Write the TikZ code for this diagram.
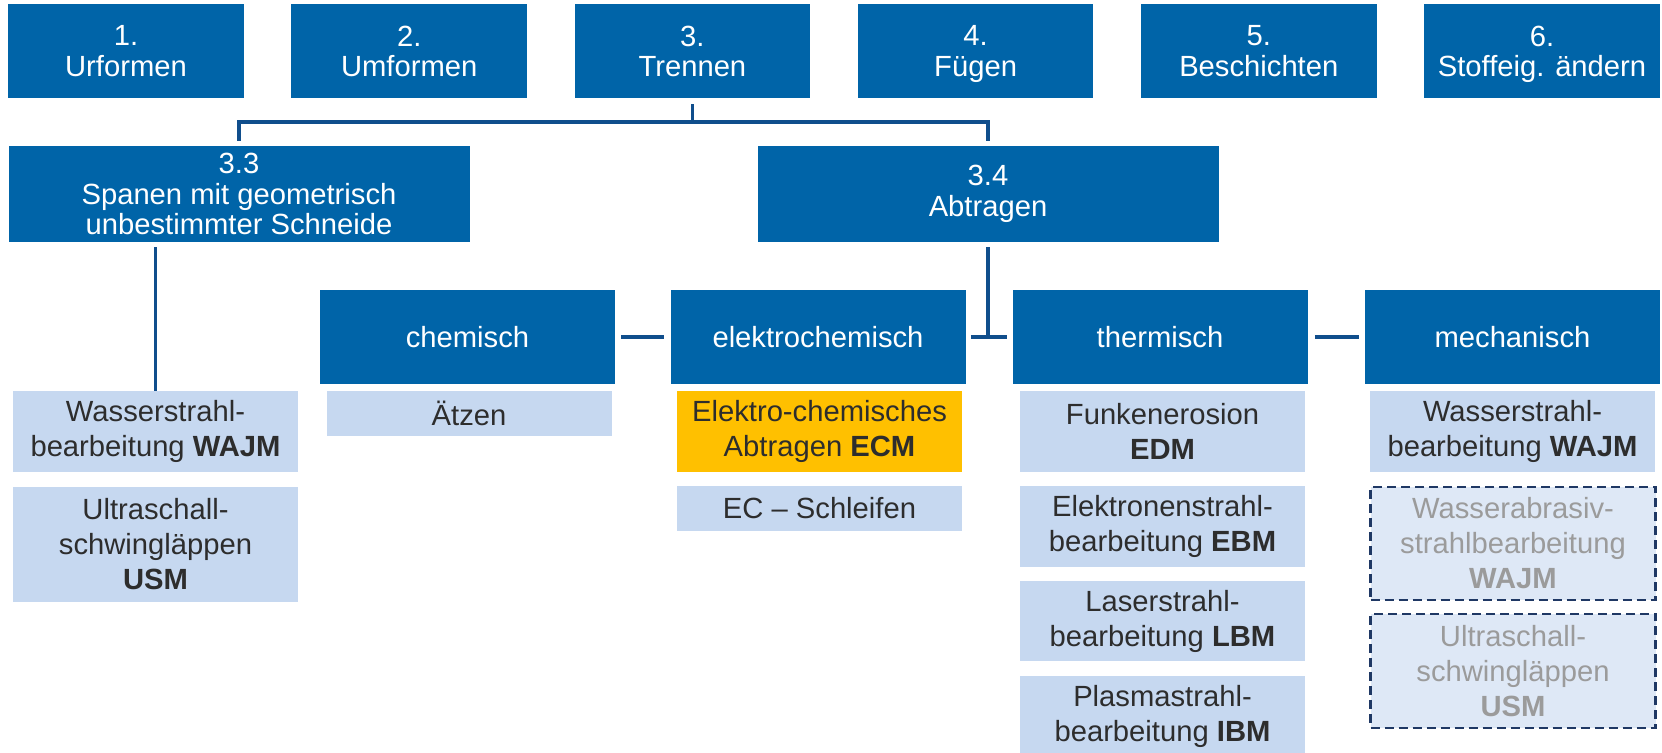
\documentclass[tikz,border=0pt]{standalone}
\usepackage{fontspec}
\setmainfont{Liberation Sans}
\usetikzlibrary{calc}

\definecolor{hsblue}{RGB}{0,100,168}
\definecolor{hsline}{RGB}{16,78,140}
\definecolor{hslight}{RGB}{198,216,240}
\definecolor{hsghost}{RGB}{222,232,246}
\definecolor{hsnavy}{RGB}{31,56,100}
\definecolor{hsgray}{RGB}{155,155,155}
\definecolor{hsdark}{RGB}{45,45,45}
\definecolor{hsorange}{RGB}{255,192,0}

\begin{document}
\begin{tikzpicture}[x=0.5pt,y=-0.5pt,
  box/.style={inner sep=0pt, align=center, font=\fontsize{14.6}{15.2}\selectfont},
  main/.style={box, fill=hsblue, text=white, minimum height=47pt},
  proc/.style={box, fill=hslight, text=hsdark, minimum width=142.5pt, font=\fontsize{14.6}{17.5}\selectfont},
  ghost/.style={proc, fill=hsghost, text=hsgray, draw=hsnavy, line width=1.2pt, dash pattern=on 4.5pt off 2.5pt},
  conn/.style={draw=hsline, line width=1.9pt}]
\useasboundingbox (0,0) rectangle (1662,752);

% Hauptgruppen
\foreach \n/\t [count=\i] in {1/Urformen, 2/Umformen, 3/Trennen, 4/Fügen, 5/Beschichten, 6/Stoffeig. ändern}
  \node[main, minimum width=117.75pt, text depth=0pt] (t\n) at ({126+283.2*(\i-1)},51) {\n.\\\t};

\node[main, minimum width=230.5pt, minimum height=48pt] (g33) at (239,194) {3.3\\Spanen mit geometrisch\\unbestimmter Schneide};
\node[main, minimum width=230.5pt, minimum height=48pt] (g34) at (988,194) {3.4\\Abtragen};

\foreach \name/\t/\x in {chem/chemisch/467.5, elchem/elektrochemisch/818, therm/thermisch/1160, mech/mechanisch/1512.5}
  \node[main, minimum width=147.5pt] (\name) at (\x,337) {\t};

% Verfahren
\node[proc, minimum height=40.5pt] (wajm1) at (155.5,431.5) {Wasserstrahl-\\bearbeitung \textbf{WAJM}};
\node[proc, minimum height=57.5pt] (usm1) at (155.5,544.5) {Ultraschall-\\schwingläppen\\\textbf{USM}};

\node[proc, minimum height=22.5pt] (aetzen) at (469,413.5) {Ätzen};

\node[proc, fill=hsorange, minimum height=40.5pt] (ecm) at (819.5,431.5) {Elektro-chemisches\\Abtragen \textbf{ECM}};
\node[proc, minimum height=22.5pt] (ecs) at (819.5,508.5) {EC – Schleifen};

\node[proc, minimum height=40.5pt] (edm) at (1162.5,431.5) {Funkenerosion\\\textbf{EDM}};
\node[proc, minimum height=40.5pt] (ebm) at (1162.5,526.5) {Elektronenstrahl-\\bearbeitung \textbf{EBM}};
\node[proc, minimum height=40pt] (lbm) at (1162.5,621) {Laserstrahl-\\bearbeitung \textbf{LBM}};
\node[proc, minimum height=40.5pt] (ibm) at (1162.5,716.5) {Plasmastrahl-\\bearbeitung \textbf{IBM}};

\node[proc, minimum height=40.5pt] (wajm2) at (1512.5,431.5) {Wasserstrahl-\\bearbeitung \textbf{WAJM}};
\node[ghost, minimum height=56.5pt] (wasjm) at (1513,543.5) {Wasserabrasiv-\\strahlbearbeitung\\\textbf{WAJM}};
\node[ghost, minimum height=57pt] (usm2) at (1513,671) {Ultraschall-\\schwingläppen\\\textbf{USM}};

% Verbindungen
\coordinate (bus) at (692.4,122);
\draw[conn] ([yshift=-3pt]t3.south) -- (bus);
\draw[conn] ([yshift=2.5pt]g33.north) |- (bus) -| ([yshift=2.5pt]g34.north);
\draw[conn] ([yshift=-2.5pt]g34.south) -- (g34.south |- elchem.east);
\draw[conn] ([xshift=2.5pt]elchem.east) -- ([xshift=-2.5pt]therm.west);
\draw[conn] ([xshift=3pt]chem.east) -- ([xshift=-3pt]elchem.west);
\draw[conn] ([xshift=3.5pt]therm.east) -- ([xshift=-3pt]mech.west);
\draw[conn] (wajm1.north) -- ([yshift=-2.5pt]wajm1.north |- g33.south);

\end{tikzpicture}
\end{document}
